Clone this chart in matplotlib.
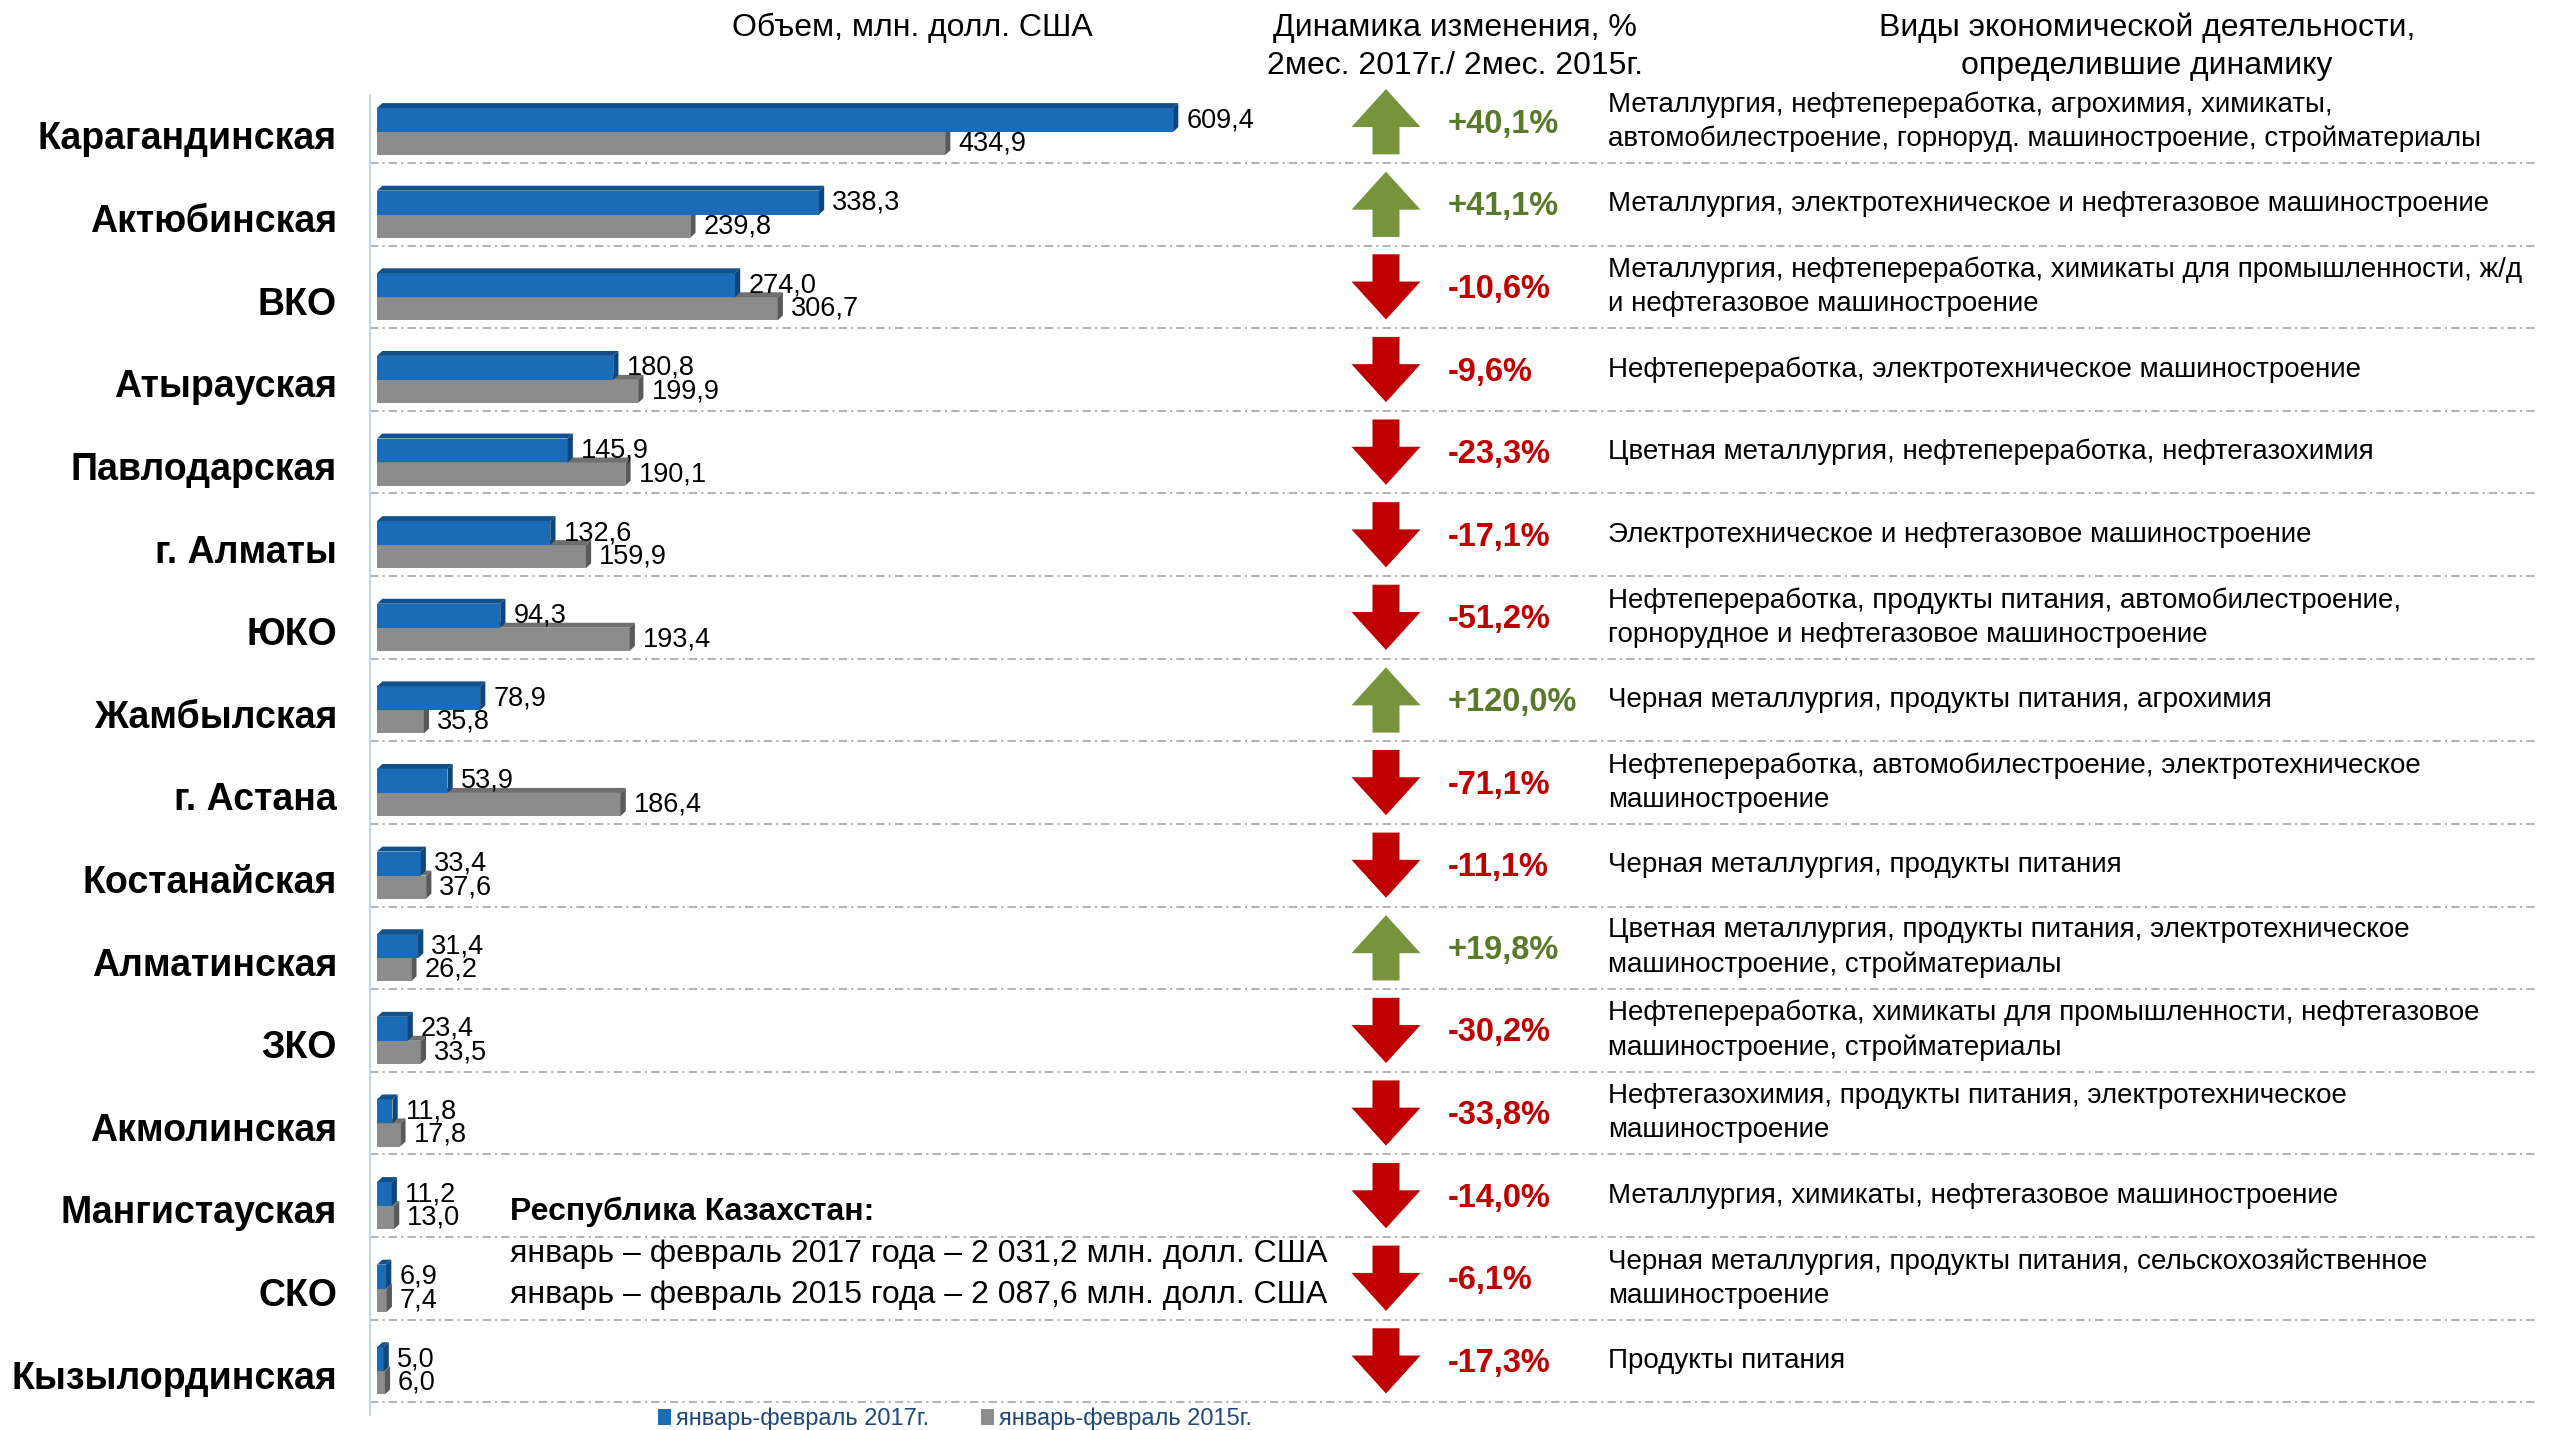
import numpy as np
import matplotlib
matplotlib.use('Agg')
import matplotlib.pyplot as plt
from matplotlib.patches import Polygon
import matplotlib.transforms as mtransforms

plt.rcParams['font.family'] = ['Liberation Sans', 'DejaVu Sans']

# ---------------- data ----------------
regions = ["Карагандинская", "Актюбинская", "ВКО", "Атырауская", "Павлодарская",
           "г. Алматы", "ЮКО", "Жамбылская", "г. Астана", "Костанайская",
           "Алматинская", "ЗКО", "Акмолинская", "Мангистауская", "СКО",
           "Кызылординская"]
vol_2017 = [609.4, 338.3, 274.0, 180.8, 145.9, 132.6, 94.3, 78.9, 53.9, 33.4,
            31.4, 23.4, 11.8, 11.2, 6.9, 5.0]
vol_2015 = [434.9, 239.8, 306.7, 199.9, 190.1, 159.9, 193.4, 35.8, 186.4, 37.6,
            26.2, 33.5, 17.8, 13.0, 7.4, 6.0]
change_pct = [40.1, 41.1, -10.6, -9.6, -23.3, -17.1, -51.2, 120.0, -71.1, -11.1,
              19.8, -30.2, -33.8, -14.0, -6.1, -17.3]
activities = [
    "Металлургия, нефтепереработка, агрохимия, химикаты,\nавтомобилестроение, горноруд. машиностроение, стройматериалы",
    "Металлургия, электротехническое и нефтегазовое машиностроение",
    "Металлургия, нефтепереработка, химикаты для промышленности, ж/д\nи нефтегазовое машиностроение",
    "Нефтепереработка, электротехническое машиностроение",
    "Цветная металлургия, нефтепереработка, нефтегазохимия",
    "Электротехническое и нефтегазовое машиностроение",
    "Нефтепереработка, продукты питания, автомобилестроение,\nгорнорудное и нефтегазовое машиностроение",
    "Черная металлургия, продукты питания, агрохимия",
    "Нефтепереработка, автомобилестроение, электротехническое\nмашиностроение",
    "Черная металлургия, продукты питания",
    "Цветная металлургия, продукты питания, электротехническое\nмашиностроение, стройматериалы",
    "Нефтепереработка, химикаты для промышленности, нефтегазовое\nмашиностроение, стройматериалы",
    "Нефтегазохимия, продукты питания, электротехническое\nмашиностроение",
    "Металлургия, химикаты, нефтегазовое машиностроение",
    "Черная металлургия, продукты питания, сельскохозяйственное\nмашиностроение",
    "Продукты питания",
]
series_labels = ["январь-февраль 2017г.", "январь-февраль 2015г."]
header_volume = "Объем, млн. долл. США"
header_change = ["Динамика изменения, %", "2мес. 2017г./ 2мес. 2015г."]
header_activity = ["Виды экономической деятельности,", "определившие динамику"]
total_title = "Республика Казахстан:"
total_lines = ["январь – февраль 2017 года – 2 031,2 млн. долл. США",
               "январь – февраль 2015 года – 2 087,6 млн. долл. США"]

# ---------------- style ----------------
W, H = 2554, 1430
BLUE, BLUE_TOP, BLUE_SIDE = "#1a6cb6", "#12508a", "#0e457a"
GRAY, GRAY_TOP, GRAY_SIDE = "#8c8c8c", "#6f6f6f", "#595959"
GREEN_ARROW, GREEN_TEXT = "#77933c", "#5a7a2b"
RED = "#c00000"

def fmt(v):
    return f"{v:.1f}".replace(".", ",")

fig = plt.figure(figsize=(W / 100, H / 100), dpi=100)
ax = fig.add_axes([370 / W, 15 / H, 2165 / W, 1320 / H])
ax.set_xlim(-5.4, 1652)
ax.set_ylim(15.53, -0.448)
for s in ["top", "right", "bottom"]:
    ax.spines[s].set_visible(False)
ax.spines["left"].set_color("#c6d5ea")
ax.spines["left"].set_linewidth(1.5)
ax.set_xticks([])
ax.set_yticks([])

n = len(regions)
y = np.arange(n)
hb, hg = 0.29, 0.28
dx, dy = 4.0, 0.06

gbars = ax.barh(y + hg / 2, vol_2015, height=hg, color=GRAY, edgecolor="none",
                zorder=2, label=series_labels[1])
bbars = ax.barh(y - hb / 2, vol_2017, height=hb, color=BLUE, edgecolor="none",
                zorder=4, label=series_labels[0])

def faces(container, top_c, side_c, z):
    for r in container:
        x0, w = r.get_x(), r.get_width()
        yt, yb = r.get_y(), r.get_y() + r.get_height()
        ax.add_patch(Polygon([(x0, yt), (x0 + dx, yt - dy), (x0 + w + dx, yt - dy), (x0 + w, yt)],
                             closed=True, facecolor=top_c, edgecolor="none", zorder=z))
        ax.add_patch(Polygon([(x0 + w, yt), (x0 + w + dx, yt - dy), (x0 + w + dx, yb - dy), (x0 + w, yb)],
                             closed=True, facecolor=side_c, edgecolor="none", zorder=z))

faces(gbars, GRAY_TOP, GRAY_SIDE, 3)
faces(bbars, BLUE_TOP, BLUE_SIDE, 5)

for i in range(n):
    ax.annotate(fmt(vol_2017[i]), xy=(vol_2017[i] + dx, i - hb / 2), xytext=(8, 0),
                textcoords="offset pixels", va="center", ha="left", fontsize=19.5, zorder=6)
    ax.annotate(fmt(vol_2015[i]), xy=(vol_2015[i] + dx, i + hg / 2), xytext=(8, 0),
                textcoords="offset pixels", va="center", ha="left", fontsize=19.5, zorder=6)
    ax.axhline(i + 0.375, color="#b5b5b5", lw=1.5, linestyle=(0, (4, 2, 1, 2)), zorder=1)

blend = mtransforms.blended_transform_factory(fig.transFigure, ax.transData)

# region labels
for i, name in enumerate(regions):
    ax.text(337 / W, i + 0.09, name, transform=blend, ha="right", va="center",
            fontsize=27, fontweight="bold", clip_on=False)

# arrows, percents, activities
cx, hw, sw = 1386 / W, 34.5 / W, 13.5 / W
for i, p in enumerate(change_pct):
    c = i - 0.125
    if p > 0:
        tip, base, end = c - 0.395, c + 0.065, c + 0.395
        col, tcol = GREEN_ARROW, GREEN_TEXT
    else:
        tip, base, end = c + 0.395, c - 0.065, c - 0.395
        col, tcol = RED, RED
    verts = [(cx, tip), (cx + hw, base), (cx + sw, base), (cx + sw, end),
             (cx - sw, end), (cx - sw, base), (cx - hw, base)]
    ax.add_patch(Polygon(verts, closed=True, transform=blend, facecolor=col,
                         edgecolor="none", clip_on=False, zorder=5))
    ax.text(1448 / W, c + 0.03, f"{p:+.1f}%".replace(".", ","), transform=blend,
            ha="left", va="center", fontsize=23.5, fontweight="bold", color=tcol, clip_on=False)
    ax.text(1608 / W, c, activities[i], transform=blend, ha="left", va="center",
            fontsize=20, linespacing=1.4, clip_on=False)

# headers
fig.text(912 / W, 1 - 28 / H, header_volume, ha="center", va="center", fontsize=23)
for k, line in enumerate(header_change):
    fig.text(1455 / W, 1 - (28 + 38 * k) / H, line, ha="center", va="center", fontsize=23)
for k, line in enumerate(header_activity):
    fig.text(2147 / W, 1 - (28 + 38 * k) / H, line, ha="center", va="center", fontsize=23)

# total block
fig.text(510 / W, 1 - 1212 / H, total_title, ha="left", va="center", fontsize=23, fontweight="bold")
for k, line in enumerate(total_lines):
    fig.text(510 / W, 1 - (1254 + 41 * k) / H, line, ha="left", va="center", fontsize=23)

fig.legend([bbars, gbars], series_labels, loc="center", bbox_to_anchor=(955 / W, 1 - 1419 / H),
           ncol=2, frameon=False, fontsize=17, handlelength=0.55, handleheight=0.7,
           handletextpad=0.2, columnspacing=2.2, labelcolor="#1f497d", borderpad=0)

fig.savefig("out.png", dpi=100)
